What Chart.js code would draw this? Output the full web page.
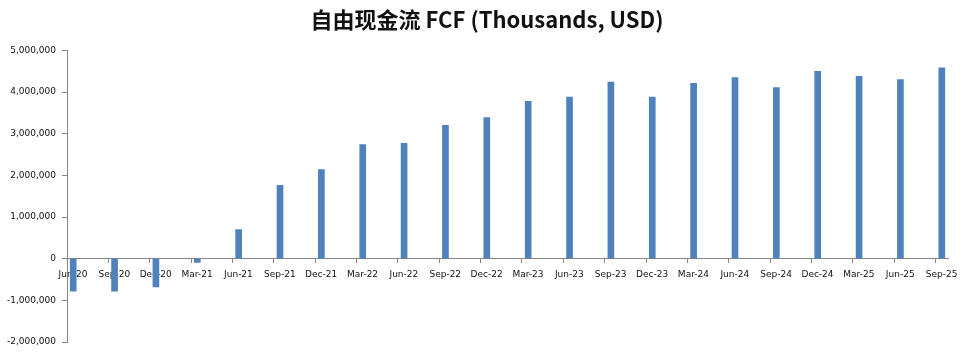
<!DOCTYPE html>
<html>
<head>
<meta charset="utf-8">
<script src="https://cdn.jsdelivr.net/npm/chart.js@4"></script>
<style>
  html, body { margin: 0; padding: 0; background: #fff; }
  #wrap { width: 969px; height: 357px; }
</style>
</head>
<body>
<div id="wrap"><canvas id="fcfChart" width="969" height="357"></canvas></div>
<script>
// quarters on the x axis
const quarters = ['Jun-20', 'Sep-20', 'Dec-20', 'Mar-21', 'Jun-21', 'Sep-21', 'Dec-21', 'Mar-22',
    'Jun-22', 'Sep-22', 'Dec-22', 'Mar-23', 'Jun-23', 'Sep-23', 'Dec-23', 'Mar-24',
    'Jun-24', 'Sep-24', 'Dec-24', 'Mar-25', 'Jun-25', 'Sep-25'];

// free cash flow, thousands USD
const fcf = [-780000, -780000, -680000, -90000, 700000, 1760000, 2140000, 2740000,
    2770000, 3200000, 3390000, 3780000, 3880000, 4240000, 3880000, 4210000,
    4350000, 4110000, 4500000, 4380000, 4300000, 4580000];

const yTicks = [-2000000, -1000000, 0, 1000000, 2000000, 3000000, 4000000, 5000000];

const tickShift = 0.15; // excel date axis puts the tick a bit left of the bar

// the original title sits a little right of canvas centre
const nudgeTitle = {
    id: 'nudgeTitle',
    afterLayout(chart) {
        if (chart.titleBlock) chart.titleBlock.left += 21;
    }
};

function drawChart() {
    const ctx = document.getElementById('fcfChart').getContext('2d');

    const data = {
        datasets: [{
            label: 'FCF',
            backgroundColor: '#4F81BD',
            borderWidth: 0,
            barThickness: 6,
            data: fcf.map((v, i) => ({ x: i, y: v }))
        }]
    };

    const options = {
        responsive: false,
        animation: false,
        layout: {
            padding: { left: 5, right: 21, top: 0, bottom: 15 }
        },
        plugins: {
            legend: { display: false },
            tooltip: { enabled: false },
            title: {
                display: true,
                text: '自由现金流 FCF (Thousands, USD)',
                color: '#111',
                font: { family: '"Noto Sans CJK SC", "DejaVu Sans"', size: 22, weight: 'bold' },
                padding: { top: 6, bottom: 18 }
            }
        },
        scales: {
            x: {
                type: 'linear',
                offset: false,
                position: { y: 0 },
                min: -tickShift,
                max: quarters.length - 1 + tickShift,
                afterBuildTicks: axis => {
                    axis.ticks = quarters.map((q, i) => ({ value: i - tickShift }));
                },
                grid: {
                    offset: false,
                    drawOnChartArea: false,
                    drawTicks: true,
                    tickLength: 4,
                    color: '#868686'
                },
                border: { display: true, color: '#868686' },
                ticks: {
                    autoSkip: false,
                    maxRotation: 0,
                    padding: 7,
                    labelOffset: 6,
                    color: '#111',
                    font: { family: '"DejaVu Sans"', size: 9 },
                    callback: (value, index) => quarters[index]
                }
            },
            y: {
                min: -2000000,
                max: 5000000,
                afterBuildTicks: axis => {
                    axis.ticks = yTicks.map(v => ({ value: v }));
                },
                afterFit: axis => { axis.width = 62; },
                grid: {
                    drawOnChartArea: false,
                    drawTicks: true,
                    tickLength: 5,
                    color: '#868686'
                },
                border: { display: true, color: '#868686' },
                ticks: {
                    padding: 6,
                    color: '#111',
                    font: { family: '"DejaVu Sans"', size: 9 },
                    callback: v => v.toLocaleString('en-US')
                }
            }
        }
    };

    new Chart(ctx, {
        type: 'bar',
        data: data,
        options: options,
        plugins: [nudgeTitle]
    });
}

drawChart();
</script>
</body>
</html>
